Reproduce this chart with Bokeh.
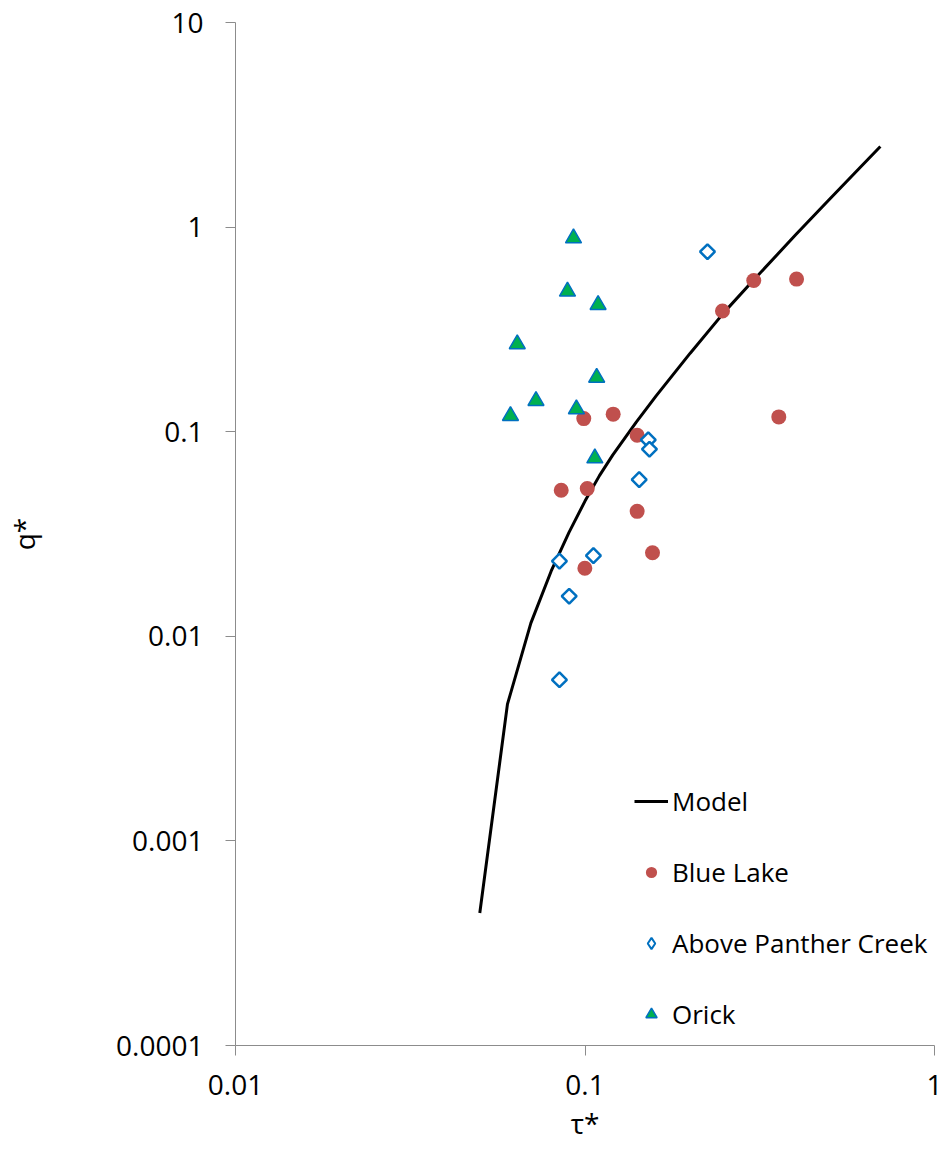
from bokeh.plotting import figure
from bokeh.models import (Range1d, FixedTicker, CustomJSTickFormatter, Legend,
                          LegendItem)
from bokeh.embed import file_html
from bokeh.resources import INLINE
import numpy as np

# ---- data -------------------------------------------------------------
model_tau = [0.05, 0.06, 0.07, 0.08, 0.09, 0.10, 0.11, 0.12, 0.14, 0.16,
             0.20, 0.25, 0.30, 0.40, 0.50, 0.60, 0.70]
model_q = [0.000444, 0.00466, 0.0116, 0.0208, 0.0322, 0.0458, 0.0610,
           0.0768, 0.111, 0.150, 0.242, 0.383, 0.539, 0.914, 1.365, 1.887,
           2.479]

blue_lake_tau = [0.0992, 0.1204, 0.141, 0.0855, 0.1015, 0.141, 0.156,
                 0.0999, 0.304, 0.403, 0.2474, 0.3585]
blue_lake_q = [0.1159, 0.1218, 0.0961, 0.0517, 0.0527, 0.0408, 0.0256,
               0.0215, 0.548, 0.557, 0.3887, 0.1181]

panther_tau = [0.1517, 0.1529, 0.1429, 0.0845, 0.1057, 0.0901, 0.0845, 0.2241]
panther_q = [0.0912, 0.0821, 0.0583, 0.0233, 0.0248, 0.0157, 0.00613, 0.758]

orick_tau = [0.0927, 0.0891, 0.109, 0.0640, 0.108, 0.0724, 0.0612, 0.0945,
             0.1067]
orick_q = [0.883, 0.4846, 0.417, 0.268, 0.184, 0.1415, 0.1195, 0.129, 0.0742]

x_ticks = [0.01, 0.1, 1]
x_tick_labels = ["0.01", "0.1", "1"]
y_ticks = [0.0001, 0.001, 0.01, 0.1, 1, 10]
y_tick_labels = ["0.0001", "0.001", "0.01", "0.1", "1", "10"]

# ---- styling ----------------------------------------------------------
FONT = "Open Sans"
FS = "28px"
LEGEND_FS = "26px"
AXIS_GREY = "#8c8c8c"
RED = "#c0504d"
BLUE = "#0070c0"
GREEN = "#00b050"

p = figure(width=946, height=1152, x_axis_type="log", y_axis_type="log",
           x_range=Range1d(0.01, 1), y_range=Range1d(0.0001, 10),
           output_backend="svg", toolbar_location=None,
           min_border_left=235, min_border_right=12,
           min_border_top=22, min_border_bottom=107,
           background_fill_color="white", border_fill_color="white",
           outline_line_color=None)

p.xgrid.visible = False
p.ygrid.visible = False

fmt_code = """
const i = tick_vals.findIndex(t => Math.abs(Math.log10(t) - Math.log10(tick)) < 1e-6);
return i >= 0 ? tick_text[i] : "";
"""
p.xaxis.ticker = FixedTicker(ticks=x_ticks)
p.yaxis.ticker = FixedTicker(ticks=y_ticks)
p.xaxis.formatter = CustomJSTickFormatter(
    args=dict(tick_vals=x_ticks, tick_text=x_tick_labels), code=fmt_code)
p.yaxis.formatter = CustomJSTickFormatter(
    args=dict(tick_vals=y_ticks, tick_text=y_tick_labels), code=fmt_code)

for ax in (p.xaxis, p.yaxis):
    ax.axis_line_color = AXIS_GREY
    ax.axis_line_width = 1
    ax.major_tick_line_color = AXIS_GREY
    ax.major_tick_out = 10
    ax.major_tick_in = 0
    ax.minor_tick_line_color = None
    ax.major_label_text_font = FONT
    ax.major_label_text_font_size = FS
    ax.major_label_text_color = "black"
    ax.axis_label_text_font = FONT
    ax.axis_label_text_font_size = FS
    ax.axis_label_text_font_style = "normal"
    ax.axis_label_text_color = "black"

p.xaxis.axis_label = "τ*"
p.yaxis.axis_label = "q*"
p.xaxis.major_label_standoff = 19
p.yaxis.major_label_standoff = 22
p.xaxis.axis_label_standoff = 6
p.yaxis.axis_label_standoff = 70

# ---- glyphs -----------------------------------------------------------
r_model = p.line(model_tau, model_q, line_color="black", line_width=3)

r_blue = p.scatter(blue_lake_tau, blue_lake_q, marker="circle", size=15,
                   fill_color=RED, line_color=RED, line_width=0)

# rotated squares give the even-sided diamond markers
r_panther = p.scatter(panther_tau, panther_q, marker="square", size=10.5,
                      angle=np.pi / 4, fill_color="white", line_color=BLUE,
                      line_width=2.5)
# hidden twin that only supplies the diamond swatch in the legend
r_panther_key = p.scatter(panther_tau, panther_q, marker="diamond", size=12,
                          fill_color="white", line_color=BLUE, line_width=2,
                          visible=False)

r_orick = p.scatter(orick_tau, orick_q, marker="triangle", size=16,
                    fill_color=GREEN, line_color=BLUE, line_width=1.5)

legend = Legend(items=[
    LegendItem(label="Model", renderers=[r_model]),
    LegendItem(label="Blue Lake", renderers=[r_blue]),
    LegendItem(label="Above Panther Creek", renderers=[r_panther_key]),
    LegendItem(label="Orick", renderers=[r_orick]),
], location=(399, 13), orientation="vertical",
    glyph_width=34, glyph_height=28, label_standoff=4, spacing=35,
    padding=0, margin=0, border_line_color=None, background_fill_alpha=0,
    label_text_font=FONT, label_text_font_size=LEGEND_FS,
    label_text_color="black")
p.add_layout(legend, "center")

open("out.html", "w").write(file_html(p, INLINE))
